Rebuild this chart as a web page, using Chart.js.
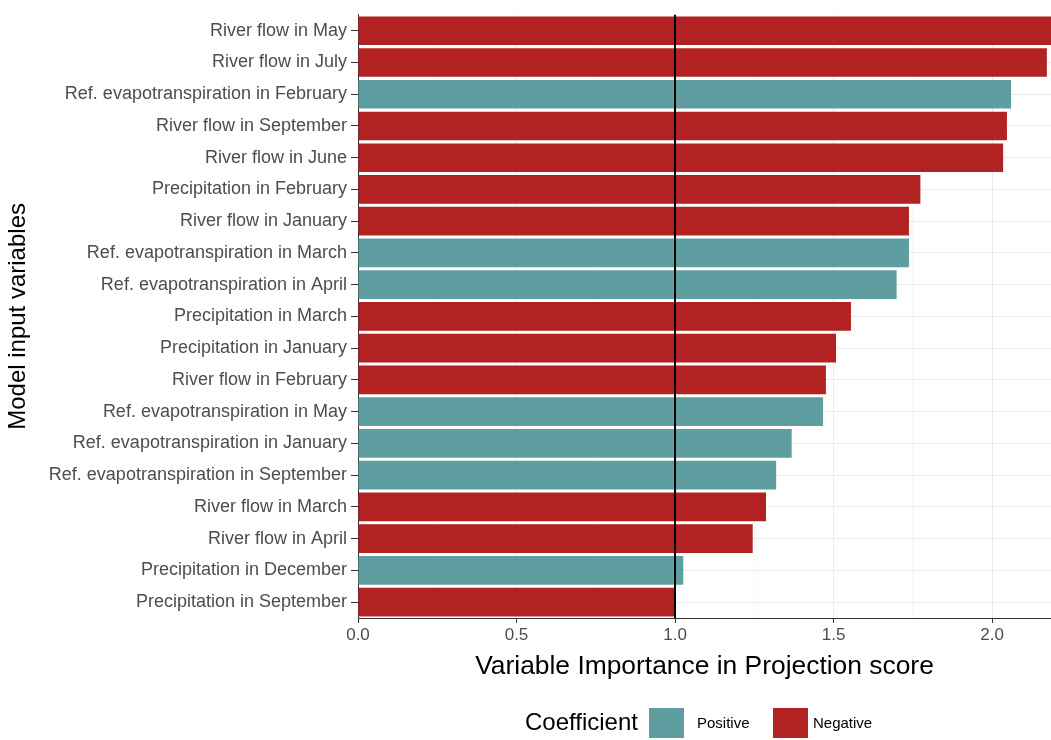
<!DOCTYPE html>
<html>
<head>
<meta charset="utf-8">
<script src="https://cdn.jsdelivr.net/npm/chart.js@4.4.0/dist/chart.umd.min.js"></script>
<style>
  html, body { margin: 0; padding: 0; background: #fff; }
  #wrap { position: relative; width: 1051px; height: 740px; overflow: hidden; }
  #legend { position: absolute; left: 525px; top: 708px; height: 30px; font-family: "Liberation Sans", Arial, sans-serif; }
  #legend span { position: absolute; white-space: nowrap; }
  .box { position: absolute; top: 0; width: 35px; height: 30px; }
</style>
</head>
<body>
<div id="wrap">
  <canvas id="chart" width="1051" height="740"></canvas>
  <div id="legend"></div>
</div>
<script>
// categories from top to bottom
const variables = [
  'River flow in May',
  'River flow in July',
  'Ref. evapotranspiration in February',
  'River flow in September',
  'River flow in June',
  'Precipitation in February',
  'River flow in January',
  'Ref. evapotranspiration in March',
  'Ref. evapotranspiration in April',
  'Precipitation in March',
  'Precipitation in January',
  'River flow in February',
  'Ref. evapotranspiration in May',
  'Ref. evapotranspiration in January',
  'Ref. evapotranspiration in September',
  'River flow in March',
  'River flow in April',
  'Precipitation in December',
  'Precipitation in September'
];
const vipScores = [2.22, 2.173, 2.06, 2.047, 2.035, 1.774, 1.738, 1.738, 1.699, 1.555,
  1.508, 1.476, 1.467, 1.368, 1.319, 1.287, 1.245, 1.026, 1.0];
const coefSign = ['Negative', 'Negative', 'Positive', 'Negative', 'Negative', 'Negative',
  'Negative', 'Positive', 'Positive', 'Negative', 'Negative', 'Negative', 'Positive',
  'Positive', 'Positive', 'Negative', 'Negative', 'Positive', 'Negative'];
const signLevels = ['Positive', 'Negative'];
const xTicks = [0, 0.5, 1.0, 1.5, 2.0];
const threshold = 1.0;

const signColors = { Positive: '#5f9ea0', Negative: '#b22222' };
const font = '"Liberation Sans", Arial, sans-serif';

// major = multiple of 0.5
function isMajor(v) {
  return Math.abs(v * 2 - Math.round(v * 2)) < 1e-6;
}

const thresholdLine = {
  id: 'thresholdLine',
  afterDatasetsDraw(chart) {
    const x = chart.scales.x.getPixelForValue(threshold);
    const area = chart.chartArea;
    const ctx = chart.ctx;
    ctx.save();
    ctx.strokeStyle = '#000';
    ctx.lineWidth = 2;
    ctx.beginPath();
    ctx.moveTo(x, area.top);
    ctx.lineTo(x, area.bottom);
    ctx.stroke();
    ctx.restore();
  }
};

let ctx = document.getElementById('chart').getContext('2d');
new Chart(ctx, {
  type: 'bar',
  data: {
    labels: variables,
    datasets: [{
      label: 'VIP',
      data: vipScores,
      backgroundColor: coefSign.map(s => signColors[s]),
      borderWidth: 0,
      barPercentage: 0.9,
      categoryPercentage: 1.0
    }]
  },
  options: {
    indexAxis: 'y',
    responsive: false,
    animation: false,
    layout: { padding: { top: 8, bottom: 52, left: 0, right: 0 } },
    plugins: { legend: { display: false }, tooltip: { enabled: false } },
    scales: {
      x: {
        min: 0,
        max: 2.186,
        afterFit(scale) { scale.height = 70; },
        border: { display: true, color: '#333', width: 1 },
        grid: {
          color: c => isMajor(c.tick.value) ? '#ebebeb' : '#f4f4f4',
          lineWidth: c => isMajor(c.tick.value) ? 1 : 0.6,
          tickColor: c => isMajor(c.tick.value) ? '#333' : 'rgba(0,0,0,0)',
          tickLength: 5
        },
        ticks: {
          stepSize: 0.25,
          includeBounds: false,
          autoSkip: false,
          maxRotation: 0,
          padding: 2,
          color: '#4d4d4d',
          font: { family: font, size: 17 },
          callback: v => xTicks.some(t => Math.abs(t - v) < 1e-6) ? v.toFixed(1) : ''
        },
        title: {
          display: true,
          text: 'Variable Importance in Projection score',
          color: '#000',
          font: { family: font, size: 26.4 },
          padding: { top: 0, bottom: 5 }
        }
      },
      y: {
        afterFit(scale) { scale.width = 358; },
        border: { display: true, color: '#333', width: 1 },
        grid: { offset: false, color: '#ebebeb', tickColor: '#333', tickLength: 7 },
        ticks: {
          autoSkip: false,
          padding: 4,
          color: '#4d4d4d',
          font: { family: font, size: 18 }
        },
        title: {
          display: true,
          text: 'Model input variables',
          color: '#000',
          font: { family: font, size: 24 },
          padding: { top: 4, bottom: 0 }
        }
      }
    }
  },
  plugins: [thresholdLine]
});

// legend
const legend = document.getElementById('legend');
legend.innerHTML =
  '<span style="left:0;top:0px;font-size:24px;color:#000">Coefficient</span>' +
  '<div class="box" style="left:124px;background:' + signColors[signLevels[0]] + '"></div>' +
  '<span style="left:172px;top:6px;font-size:15px;color:#000">' + signLevels[0] + '</span>' +
  '<div class="box" style="left:248px;background:' + signColors[signLevels[1]] + '"></div>' +
  '<span style="left:288px;top:6px;font-size:15px;color:#000">' + signLevels[1] + '</span>';
</script>
</body>
</html>
